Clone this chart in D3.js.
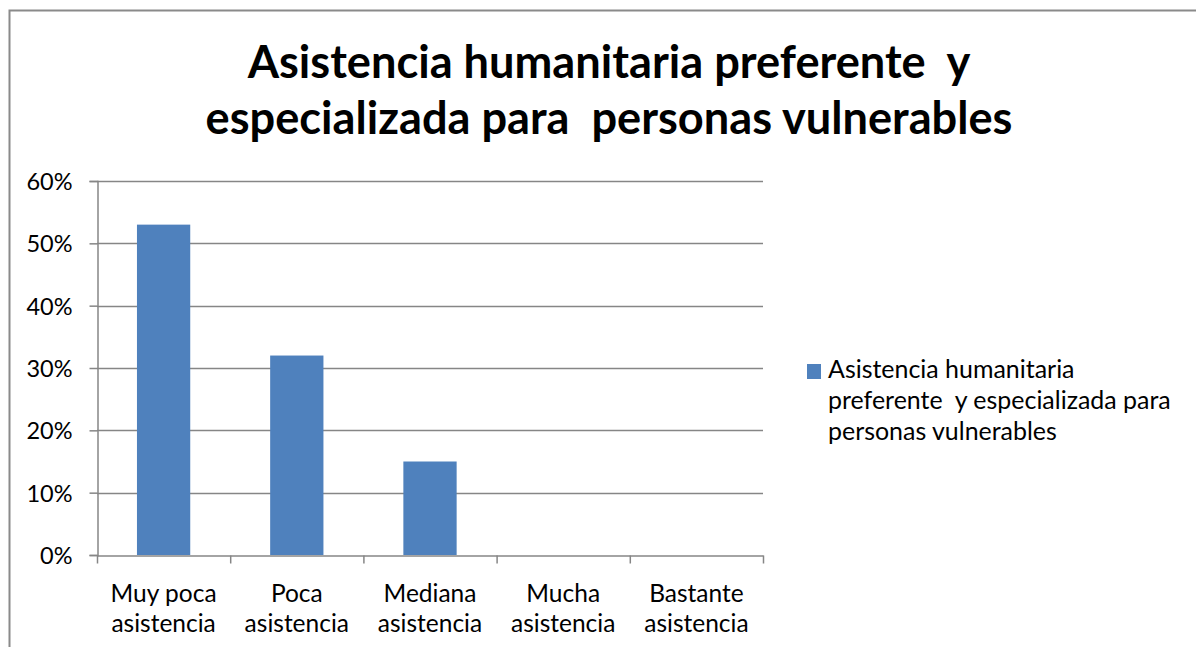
<!DOCTYPE html>
<html>
<head>
<meta charset="utf-8">
<script src="https://cdn.jsdelivr.net/npm/d3@7/dist/d3.min.js"></script>
<style>
html,body{margin:0;padding:0;background:#fff;}
svg{display:block;}
text{font-family:Lato,"Open Sans",sans-serif;fill:#000;white-space:pre;}
</style>
</head>
<body>
<svg id="chart" width="1196" height="647"></svg>
<script>
const categories = [["Muy poca","asistencia"],["Poca","asistencia"],["Mediana","asistencia"],["Mucha","asistencia"],["Bastante","asistencia"]];
const values = [0.53, 0.32, 0.15, 0, 0];
const yTicks = [0, 0.1, 0.2, 0.3, 0.4, 0.5, 0.6];
const titleLines = ["Asistencia humanitaria preferente  y", "especializada para  personas vulnerables"];
const legendLines = ["Asistencia humanitaria", "preferente  y especializada para", "personas vulnerables"];

const svg = d3.select("#chart");
const W = 1196, H = 647;
const plot = {left: 97, right: 763, top: 181, bottom: 555};
const barColor = "#4F81BD", gridColor = "#868686";

svg.append("rect").attr("width", W).attr("height", H).attr("fill", "#fff");
// outer chart border (extends past the right/bottom edges)
svg.append("rect").attr("x", 9.5).attr("y", 10.5).attr("width", W + 20).attr("height", H + 20)
  .attr("fill", "none").attr("stroke", "#8a8a8a").attr("stroke-width", 2);

const x = d3.scaleBand().domain(d3.range(categories.length))
  .range([plot.left, plot.right]).paddingInner(0.6).paddingOuter(0.3);
const xb = d3.scaleLinear().domain([0, categories.length]).range([plot.left, plot.right]);
const y = d3.scaleLinear().domain([0, 0.6]).range([plot.bottom, plot.top]);

// gridlines
svg.append("g").selectAll("line").data(yTicks.filter(d => d > 0)).join("line")
  .attr("x1", plot.left).attr("x2", plot.right)
  .attr("y1", d => Math.round(y(d)) + 0.5).attr("y2", d => Math.round(y(d)) + 0.5)
  .attr("stroke", gridColor).attr("stroke-width", 1.5);

// bars
svg.append("g").selectAll("rect").data(values).join("rect")
  .attr("x", (d, i) => x(i)).attr("width", x.bandwidth())
  .attr("y", d => y(d)).attr("height", d => y(0) - y(d))
  .attr("fill", barColor);

// y axis
const yAxis = svg.append("g").attr("transform", `translate(${plot.left + 0.5},0)`)
  .call(d3.axisLeft(y).tickValues(yTicks).tickFormat(d3.format(".0%")).tickSize(8).tickPadding(17));
yAxis.select(".domain").attr("stroke", gridColor).attr("stroke-width", 1.5);
yAxis.selectAll(".tick line").attr("stroke", gridColor).attr("stroke-width", 1.5);
yAxis.selectAll(".tick text").attr("font-size", 23.5).attr("font-family", "Lato").attr("fill", "#000").attr("dy", "0.36em");

// x axis (ticks at category boundaries)
const xAxis = svg.append("g").attr("transform", `translate(0,${plot.bottom + 0.5})`)
  .call(d3.axisBottom(xb).tickValues(d3.range(categories.length + 1)).tickFormat("").tickSize(8).tickSizeOuter(0));
xAxis.select(".domain").attr("stroke", gridColor).attr("stroke-width", 1.5);
xAxis.selectAll(".tick line").attr("stroke", gridColor).attr("stroke-width", 1.5);

// category labels
const cl = svg.append("g").selectAll("text").data(categories).join("text")
  .attr("text-anchor", "middle").attr("font-size", 24.5)
  .attr("x", (d, i) => x(i) + x.bandwidth() / 2).attr("y", 602);
cl.selectAll("tspan").data(d => d).join("tspan")
  .attr("x", function() { return this.parentNode.getAttribute("x"); })
  .attr("dy", (d, i) => i === 0 ? 0 : 30).text(d => d);

// title
const title = svg.append("text").attr("text-anchor", "middle").attr("font-weight", "bold")
  .attr("x", 609).attr("y", 78).attr("font-size", 44);
title.selectAll("tspan").data(titleLines).join("tspan")
  .attr("x", 609).attr("dy", (d, i) => i === 0 ? 0 : 56).text(d => d);
// fit title to reference width
(function(){
  const nodes = title.selectAll("tspan").nodes();
  const w = nodes[1].getComputedTextLength();
  const target = 807;
  title.attr("font-size", 44 * target / w);
})();

// legend
const lg = svg.append("g");
lg.append("rect").attr("x", 807).attr("y", 364).attr("width", 14).attr("height", 15).attr("fill", barColor);
const lt = lg.append("text").attr("x", 828).attr("y", 378).attr("font-size", 22);
lt.selectAll("tspan").data(legendLines).join("tspan")
  .attr("x", 828).attr("dy", (d, i) => i === 0 ? 0 : 31).text(d => d);
(function(){
  const nodes = lt.selectAll("tspan").nodes();
  const w = nodes[1].getComputedTextLength();
  lt.attr("font-size", 22 * 343 / w);
})();
</script>
</body>
</html>
